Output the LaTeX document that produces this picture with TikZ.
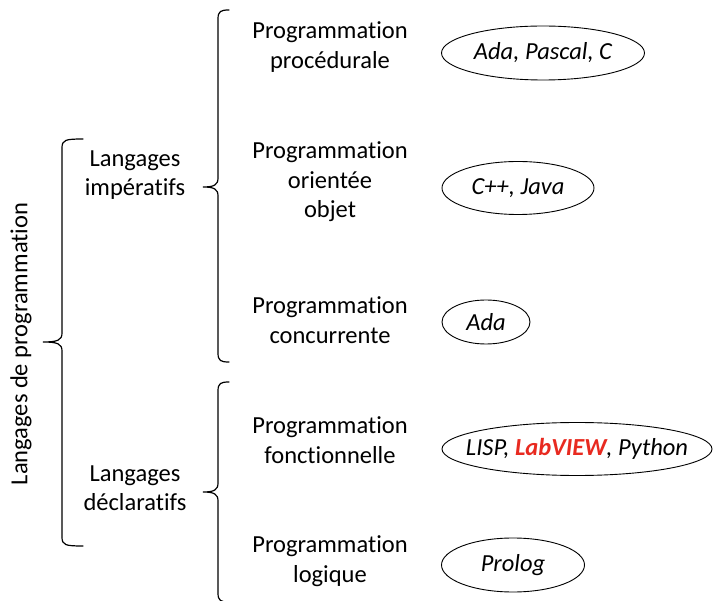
\documentclass[tikz,border=0pt]{standalone}
\usepackage{fontspec}
\setmainfont{Carlito}[Ligatures={NoCommon}]
\usepackage{xcolor}
\usetikzlibrary{shapes.geometric}

\definecolor{labred}{RGB}{232,42,32}

% accolade : x, haut, milieu, bas, crochet, pointe
\newcommand{\accolade}[6]{%
  \draw[brace] ({#1+#5},{#2}) .. controls ({#1+3},{#2}) and ({#1},{#2+1}) .. ({#1},{#2+9})
    -- ({#1},{#3-9}) .. controls ({#1},{#3-2}) and ({#1-4},{#3}) .. ({#1-#6},{#3})
    .. controls ({#1-4},{#3}) and ({#1},{#3+2}) .. ({#1},{#3+9})
    -- ({#1},{#4-9}) .. controls ({#1},{#4-1}) and ({#1+3},{#4}) .. ({#1+#5},{#4});}

\begin{document}
\begin{tikzpicture}[x=1pt, y=-1pt,
    font=\fontsize{24.5}{29.5}\selectfont,
    brace/.style={line width=1.2pt, line cap=round},
    categ/.style={align=center, inner sep=0pt},
    exemple/.style={ellipse, draw, line width=0.9pt, inner sep=0pt, font=\fontsize{24.5}{29.5}\selectfont\itshape}]

    \useasboundingbox (0,0) rectangle (715,601);

    % racine
    \node[categ, rotate=90] (racine) at (21,344) {Langages de programmation};

    % langages
    \node[categ] (imper) at (135,175) {Langages\\impératifs};
    \node[categ] (declar) at (135,488) {Langages\\déclaratifs};

    % paradigmes
    \node[categ] (proc) at (330,47) {Programmation\\procédurale};
    \node[categ] (objet) at (330,182) {Programmation\\orientée\\objet};
    \node[categ] (conc) at (330,320) {Programmation\\concurrente};
    \node[categ] (fonc) at (330,440) {Programmation\\fonctionnelle};
    \node[categ] (logiq) at (330,561) {Programmation\\logique};

    % exemples
    \node[exemple, minimum width=203pt, minimum height=54pt] (exProc) at (543,53) {Ada, Pascal, C};
    \node[exemple, minimum width=152pt, minimum height=53pt] (exObjet) at (518,188) {C++, Java};
    \node[exemple, minimum width=88pt, minimum height=44pt] (exConc) at (486,322) {Ada};
    \node[exemple, inner xsep=-22pt, minimum width=270pt, minimum height=53pt] (exFonc) at (577,449)
        {LISP, \textcolor{labred}{\bfseries LabVIEW}, Python};
    \node[exemple, minimum width=143pt, minimum height=54pt] (exLogiq) at (513,565) {Prolog};

    % accolades
    \accolade{62}{139}{342}{546}{21}{19}
    \accolade{218}{10}{187}{362}{11}{15}
    \accolade{218}{382}{492}{602}{11}{15}

\end{tikzpicture}
\end{document}
